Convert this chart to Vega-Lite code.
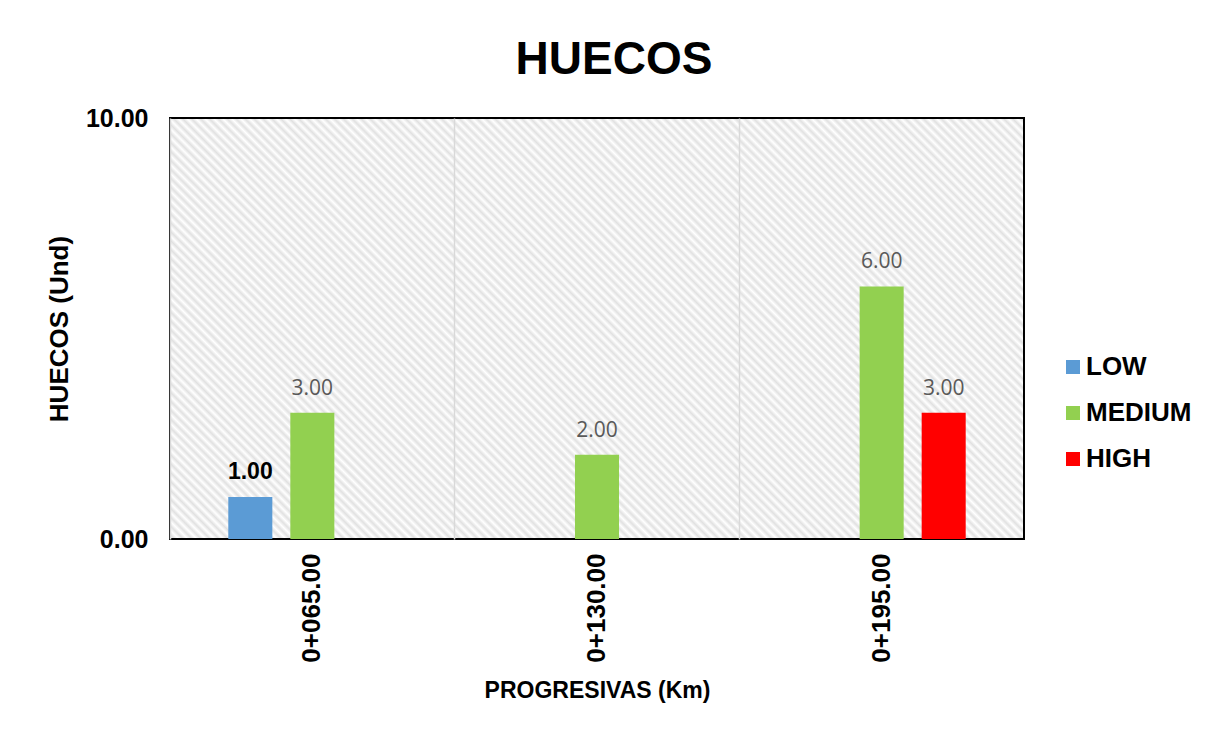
{
  "$schema": "https://vega.github.io/schema/vega-lite/v6.json",
  "width": 854,
  "height": 421,
  "autosize": "none",
  "padding": {"left": 170, "top": 118, "right": 192, "bottom": 192},
  "background": "white",
  "title": {
    "text": "HUECOS",
    "font": "Liberation Sans",
    "fontSize": 46,
    "fontWeight": "bold",
    "color": "black",
    "anchor": "middle",
    "baseline": "alphabetic",
    "dx": 17,
    "dy": 55,
    "offset": 41
  },
  "data": {
    "values": [
      {"progresiva": "0+065.00", "nivel": "LOW", "huecos": 1},
      {"progresiva": "0+065.00", "nivel": "MEDIUM", "huecos": 3},
      {"progresiva": "0+130.00", "nivel": "MEDIUM", "huecos": 2},
      {"progresiva": "0+195.00", "nivel": "MEDIUM", "huecos": 6},
      {"progresiva": "0+195.00", "nivel": "HIGH", "huecos": 3}
    ]
  },
  "encoding": {
    "x": {
      "field": "progresiva",
      "type": "nominal",
      "sort": ["0+065.00", "0+130.00", "0+195.00"],
      "scale": {"paddingInner": 0, "paddingOuter": 0},
      "axis": {
        "title": "PROGRESIVAS (Km)",
        "titleFont": "Liberation Sans",
        "titleFontSize": 23,
        "titleFontWeight": "bold",
        "titleColor": "black",
        "titlePadding": 17,
        "labelAngle": -90,
        "labelFont": "Liberation Sans",
        "labelFontSize": 26,
        "labelFontWeight": "bold",
        "labelColor": "black",
        "labelPadding": 14,
        "bandPosition": 0,
        "ticks": false,
        "domain": false,
        "grid": true,
        "gridColor": "#d9d9d9",
        "gridWidth": 1.5
      }
    },
    "xOffset": {
      "field": "nivel",
      "type": "nominal",
      "scale": {"domain": ["LOW", "MEDIUM", "HIGH"], "paddingInner": 0.29, "paddingOuter": 0.94}
    },
    "y": {
      "field": "huecos",
      "type": "quantitative",
      "scale": {"domain": [0, 10], "nice": false},
      "axis": {
        "title": "HUECOS (Und)",
        "titleFont": "Liberation Sans",
        "titleFontSize": 26,
        "titleFontWeight": "bold",
        "titleColor": "black",
        "titlePadding": 13,
        "values": [0, 10],
        "format": ".2f",
        "labelFont": "Liberation Sans",
        "labelFontSize": 25,
        "labelFontWeight": "bold",
        "labelColor": "black",
        "labelPadding": 22,
        "ticks": false,
        "domain": false,
        "grid": false
      }
    }
  },
  "layer": [
    {
      "mark": {"type": "bar"},
      "encoding": {
        "color": {
          "field": "nivel",
          "type": "nominal",
          "scale": {"domain": ["LOW", "MEDIUM", "HIGH"], "range": ["#5b9bd5", "#92d050", "#ff0000"]},
          "legend": {
            "title": null,
            "orient": "none",
            "legendX": 890,
            "legendY": 236,
            "symbolType": "square",
            "symbolSize": 196,
            "symbolStrokeWidth": 0,
            "labelFont": "Liberation Sans",
            "labelFontSize": 26,
            "labelFontWeight": "bold",
            "labelColor": "black",
            "labelOffset": 0,
            "rowPadding": 20,
            "padding": 0
          }
        }
      }
    },
    {
      "transform": [{"filter": "datum.nivel === 'LOW'"}],
      "mark": {"type": "text", "baseline": "alphabetic", "dy": -18, "font": "Liberation Sans", "fontSize": 23, "fontWeight": "bold", "color": "black"},
      "encoding": {"text": {"field": "huecos", "type": "quantitative", "format": ".2f"}}
    },
    {
      "transform": [{"filter": "datum.nivel !== 'LOW'"}],
      "mark": {"type": "text", "baseline": "alphabetic", "dy": -18, "font": "Open Sans", "fontSize": 21, "color": "#595959"},
      "encoding": {"text": {"field": "huecos", "type": "quantitative", "format": ".2f"}}
    }
  ],
  "config": {
    "view": {
      "stroke": "black",
      "strokeWidth": 2,
      "fill": {
        "gradient": "linear",
        "x1": 0, "y1": 1, "x2": 1.2011, "y2": 0.4079,
        "stops": [
          {"offset": 0, "color": "#fff"}, {"offset": 0.0035, "color": "#e1e1e1"},
          {"offset": 0.007, "color": "#fff"}, {"offset": 0.0105, "color": "#e1e1e1"},
          {"offset": 0.014, "color": "#fff"}, {"offset": 0.0175, "color": "#e1e1e1"},
          {"offset": 0.021, "color": "#fff"}, {"offset": 0.0245, "color": "#e1e1e1"},
          {"offset": 0.028, "color": "#fff"}, {"offset": 0.0315, "color": "#e1e1e1"},
          {"offset": 0.035, "color": "#fff"}, {"offset": 0.0385, "color": "#e1e1e1"},
          {"offset": 0.042, "color": "#fff"}, {"offset": 0.0455, "color": "#e1e1e1"},
          {"offset": 0.049, "color": "#fff"}, {"offset": 0.0525, "color": "#e1e1e1"},
          {"offset": 0.056, "color": "#fff"}, {"offset": 0.0595, "color": "#e1e1e1"},
          {"offset": 0.063, "color": "#fff"}, {"offset": 0.0665, "color": "#e1e1e1"},
          {"offset": 0.07, "color": "#fff"}, {"offset": 0.0735, "color": "#e1e1e1"},
          {"offset": 0.077, "color": "#fff"}, {"offset": 0.0805, "color": "#e1e1e1"},
          {"offset": 0.084, "color": "#fff"}, {"offset": 0.0875, "color": "#e1e1e1"},
          {"offset": 0.091, "color": "#fff"}, {"offset": 0.0945, "color": "#e1e1e1"},
          {"offset": 0.098, "color": "#fff"}, {"offset": 0.1015, "color": "#e1e1e1"},
          {"offset": 0.105, "color": "#fff"}, {"offset": 0.1085, "color": "#e1e1e1"},
          {"offset": 0.112, "color": "#fff"}, {"offset": 0.1155, "color": "#e1e1e1"},
          {"offset": 0.119, "color": "#fff"}, {"offset": 0.1225, "color": "#e1e1e1"},
          {"offset": 0.126, "color": "#fff"}, {"offset": 0.1295, "color": "#e1e1e1"},
          {"offset": 0.133, "color": "#fff"}, {"offset": 0.1365, "color": "#e1e1e1"},
          {"offset": 0.14, "color": "#fff"}, {"offset": 0.1435, "color": "#e1e1e1"},
          {"offset": 0.147, "color": "#fff"}, {"offset": 0.1505, "color": "#e1e1e1"},
          {"offset": 0.154, "color": "#fff"}, {"offset": 0.1575, "color": "#e1e1e1"},
          {"offset": 0.161, "color": "#fff"}, {"offset": 0.1645, "color": "#e1e1e1"},
          {"offset": 0.168, "color": "#fff"}, {"offset": 0.1715, "color": "#e1e1e1"},
          {"offset": 0.175, "color": "#fff"}, {"offset": 0.1785, "color": "#e1e1e1"},
          {"offset": 0.182, "color": "#fff"}, {"offset": 0.1855, "color": "#e1e1e1"},
          {"offset": 0.189, "color": "#fff"}, {"offset": 0.1925, "color": "#e1e1e1"},
          {"offset": 0.196, "color": "#fff"}, {"offset": 0.1995, "color": "#e1e1e1"},
          {"offset": 0.203, "color": "#fff"}, {"offset": 0.2065, "color": "#e1e1e1"},
          {"offset": 0.21, "color": "#fff"}, {"offset": 0.2135, "color": "#e1e1e1"},
          {"offset": 0.217, "color": "#fff"}, {"offset": 0.2205, "color": "#e1e1e1"},
          {"offset": 0.224, "color": "#fff"}, {"offset": 0.2275, "color": "#e1e1e1"},
          {"offset": 0.231, "color": "#fff"}, {"offset": 0.2345, "color": "#e1e1e1"},
          {"offset": 0.238, "color": "#fff"}, {"offset": 0.2415, "color": "#e1e1e1"},
          {"offset": 0.245, "color": "#fff"}, {"offset": 0.2485, "color": "#e1e1e1"},
          {"offset": 0.252, "color": "#fff"}, {"offset": 0.2555, "color": "#e1e1e1"},
          {"offset": 0.259, "color": "#fff"}, {"offset": 0.2625, "color": "#e1e1e1"},
          {"offset": 0.266, "color": "#fff"}, {"offset": 0.2695, "color": "#e1e1e1"},
          {"offset": 0.273, "color": "#fff"}, {"offset": 0.2765, "color": "#e1e1e1"},
          {"offset": 0.28, "color": "#fff"}, {"offset": 0.2835, "color": "#e1e1e1"},
          {"offset": 0.287, "color": "#fff"}, {"offset": 0.2905, "color": "#e1e1e1"},
          {"offset": 0.294, "color": "#fff"}, {"offset": 0.2975, "color": "#e1e1e1"},
          {"offset": 0.301, "color": "#fff"}, {"offset": 0.3045, "color": "#e1e1e1"},
          {"offset": 0.308, "color": "#fff"}, {"offset": 0.3115, "color": "#e1e1e1"},
          {"offset": 0.315, "color": "#fff"}, {"offset": 0.3185, "color": "#e1e1e1"},
          {"offset": 0.322, "color": "#fff"}, {"offset": 0.3255, "color": "#e1e1e1"},
          {"offset": 0.329, "color": "#fff"}, {"offset": 0.3325, "color": "#e1e1e1"},
          {"offset": 0.336, "color": "#fff"}, {"offset": 0.3395, "color": "#e1e1e1"},
          {"offset": 0.343, "color": "#fff"}, {"offset": 0.3465, "color": "#e1e1e1"},
          {"offset": 0.35, "color": "#fff"}, {"offset": 0.3535, "color": "#e1e1e1"},
          {"offset": 0.357, "color": "#fff"}, {"offset": 0.3605, "color": "#e1e1e1"},
          {"offset": 0.364, "color": "#fff"}, {"offset": 0.3675, "color": "#e1e1e1"},
          {"offset": 0.371, "color": "#fff"}, {"offset": 0.3745, "color": "#e1e1e1"},
          {"offset": 0.378, "color": "#fff"}, {"offset": 0.3815, "color": "#e1e1e1"},
          {"offset": 0.385, "color": "#fff"}, {"offset": 0.3885, "color": "#e1e1e1"},
          {"offset": 0.392, "color": "#fff"}, {"offset": 0.3955, "color": "#e1e1e1"},
          {"offset": 0.399, "color": "#fff"}, {"offset": 0.4025, "color": "#e1e1e1"},
          {"offset": 0.406, "color": "#fff"}, {"offset": 0.4095, "color": "#e1e1e1"},
          {"offset": 0.413, "color": "#fff"}, {"offset": 0.4165, "color": "#e1e1e1"},
          {"offset": 0.42, "color": "#fff"}, {"offset": 0.4235, "color": "#e1e1e1"},
          {"offset": 0.427, "color": "#fff"}, {"offset": 0.4305, "color": "#e1e1e1"},
          {"offset": 0.434, "color": "#fff"}, {"offset": 0.4375, "color": "#e1e1e1"},
          {"offset": 0.441, "color": "#fff"}, {"offset": 0.4445, "color": "#e1e1e1"},
          {"offset": 0.448, "color": "#fff"}, {"offset": 0.4515, "color": "#e1e1e1"},
          {"offset": 0.455, "color": "#fff"}, {"offset": 0.4585, "color": "#e1e1e1"},
          {"offset": 0.462, "color": "#fff"}, {"offset": 0.4655, "color": "#e1e1e1"},
          {"offset": 0.469, "color": "#fff"}, {"offset": 0.4725, "color": "#e1e1e1"},
          {"offset": 0.476, "color": "#fff"}, {"offset": 0.4795, "color": "#e1e1e1"},
          {"offset": 0.483, "color": "#fff"}, {"offset": 0.4865, "color": "#e1e1e1"},
          {"offset": 0.49, "color": "#fff"}, {"offset": 0.4935, "color": "#e1e1e1"},
          {"offset": 0.497, "color": "#fff"}, {"offset": 0.5005, "color": "#e1e1e1"},
          {"offset": 0.504, "color": "#fff"}, {"offset": 0.5075, "color": "#e1e1e1"},
          {"offset": 0.511, "color": "#fff"}, {"offset": 0.5145, "color": "#e1e1e1"},
          {"offset": 0.518, "color": "#fff"}, {"offset": 0.5215, "color": "#e1e1e1"},
          {"offset": 0.525, "color": "#fff"}, {"offset": 0.5285, "color": "#e1e1e1"},
          {"offset": 0.532, "color": "#fff"}, {"offset": 0.5355, "color": "#e1e1e1"},
          {"offset": 0.539, "color": "#fff"}, {"offset": 0.5425, "color": "#e1e1e1"},
          {"offset": 0.546, "color": "#fff"}, {"offset": 0.5495, "color": "#e1e1e1"},
          {"offset": 0.553, "color": "#fff"}, {"offset": 0.5565, "color": "#e1e1e1"},
          {"offset": 0.56, "color": "#fff"}, {"offset": 0.5635, "color": "#e1e1e1"},
          {"offset": 0.567, "color": "#fff"}, {"offset": 0.5705, "color": "#e1e1e1"},
          {"offset": 0.574, "color": "#fff"}, {"offset": 0.5775, "color": "#e1e1e1"},
          {"offset": 0.581, "color": "#fff"}, {"offset": 0.5845, "color": "#e1e1e1"},
          {"offset": 0.588, "color": "#fff"}, {"offset": 0.5915, "color": "#e1e1e1"},
          {"offset": 0.595, "color": "#fff"}, {"offset": 0.5985, "color": "#e1e1e1"},
          {"offset": 0.602, "color": "#fff"}, {"offset": 0.6055, "color": "#e1e1e1"},
          {"offset": 0.609, "color": "#fff"}, {"offset": 0.6125, "color": "#e1e1e1"},
          {"offset": 0.616, "color": "#fff"}, {"offset": 0.6195, "color": "#e1e1e1"},
          {"offset": 0.623, "color": "#fff"}, {"offset": 0.6265, "color": "#e1e1e1"},
          {"offset": 0.63, "color": "#fff"}, {"offset": 0.6335, "color": "#e1e1e1"},
          {"offset": 0.637, "color": "#fff"}, {"offset": 0.6405, "color": "#e1e1e1"},
          {"offset": 0.644, "color": "#fff"}, {"offset": 0.6475, "color": "#e1e1e1"},
          {"offset": 0.651, "color": "#fff"}, {"offset": 0.6545, "color": "#e1e1e1"},
          {"offset": 0.658, "color": "#fff"}, {"offset": 0.6615, "color": "#e1e1e1"},
          {"offset": 0.665, "color": "#fff"}, {"offset": 0.6685, "color": "#e1e1e1"},
          {"offset": 0.672, "color": "#fff"}, {"offset": 0.6755, "color": "#e1e1e1"},
          {"offset": 0.679, "color": "#fff"}, {"offset": 0.6825, "color": "#e1e1e1"},
          {"offset": 0.686, "color": "#fff"}, {"offset": 0.6895, "color": "#e1e1e1"},
          {"offset": 0.693, "color": "#fff"}, {"offset": 0.6965, "color": "#e1e1e1"},
          {"offset": 0.7, "color": "#fff"}, {"offset": 0.7035, "color": "#e1e1e1"},
          {"offset": 0.707, "color": "#fff"}, {"offset": 0.7105, "color": "#e1e1e1"},
          {"offset": 0.714, "color": "#fff"}, {"offset": 0.7175, "color": "#e1e1e1"},
          {"offset": 0.721, "color": "#fff"}, {"offset": 0.7245, "color": "#e1e1e1"},
          {"offset": 0.728, "color": "#fff"}, {"offset": 0.7315, "color": "#e1e1e1"},
          {"offset": 0.735, "color": "#fff"}, {"offset": 0.7385, "color": "#e1e1e1"},
          {"offset": 0.742, "color": "#fff"}, {"offset": 0.7455, "color": "#e1e1e1"},
          {"offset": 0.749, "color": "#fff"}, {"offset": 0.7525, "color": "#e1e1e1"},
          {"offset": 0.756, "color": "#fff"}, {"offset": 0.7595, "color": "#e1e1e1"},
          {"offset": 0.763, "color": "#fff"}, {"offset": 0.7665, "color": "#e1e1e1"},
          {"offset": 0.77, "color": "#fff"}, {"offset": 0.7735, "color": "#e1e1e1"},
          {"offset": 0.777, "color": "#fff"}, {"offset": 0.7805, "color": "#e1e1e1"},
          {"offset": 0.784, "color": "#fff"}, {"offset": 0.7875, "color": "#e1e1e1"},
          {"offset": 0.791, "color": "#fff"}, {"offset": 0.7945, "color": "#e1e1e1"},
          {"offset": 0.798, "color": "#fff"}, {"offset": 0.8015, "color": "#e1e1e1"},
          {"offset": 0.805, "color": "#fff"}, {"offset": 0.8085, "color": "#e1e1e1"},
          {"offset": 0.812, "color": "#fff"}, {"offset": 0.8155, "color": "#e1e1e1"},
          {"offset": 0.819, "color": "#fff"}, {"offset": 0.8225, "color": "#e1e1e1"},
          {"offset": 0.826, "color": "#fff"}, {"offset": 0.8295, "color": "#e1e1e1"},
          {"offset": 0.833, "color": "#fff"}, {"offset": 0.8365, "color": "#e1e1e1"},
          {"offset": 0.84, "color": "#fff"}, {"offset": 0.8435, "color": "#e1e1e1"},
          {"offset": 0.847, "color": "#fff"}, {"offset": 0.8505, "color": "#e1e1e1"},
          {"offset": 0.854, "color": "#fff"}, {"offset": 0.8575, "color": "#e1e1e1"},
          {"offset": 0.861, "color": "#fff"}, {"offset": 0.8645, "color": "#e1e1e1"},
          {"offset": 0.868, "color": "#fff"}, {"offset": 0.8715, "color": "#e1e1e1"},
          {"offset": 0.875, "color": "#fff"}, {"offset": 0.8785, "color": "#e1e1e1"},
          {"offset": 0.882, "color": "#fff"}, {"offset": 0.8855, "color": "#e1e1e1"},
          {"offset": 0.889, "color": "#fff"}, {"offset": 0.8925, "color": "#e1e1e1"},
          {"offset": 0.896, "color": "#fff"}, {"offset": 0.8995, "color": "#e1e1e1"},
          {"offset": 0.903, "color": "#fff"}, {"offset": 0.9065, "color": "#e1e1e1"},
          {"offset": 0.91, "color": "#fff"}, {"offset": 0.9135, "color": "#e1e1e1"},
          {"offset": 0.917, "color": "#fff"}, {"offset": 0.9205, "color": "#e1e1e1"},
          {"offset": 0.924, "color": "#fff"}, {"offset": 0.9275, "color": "#e1e1e1"},
          {"offset": 0.931, "color": "#fff"}, {"offset": 0.9345, "color": "#e1e1e1"},
          {"offset": 0.938, "color": "#fff"}, {"offset": 0.9415, "color": "#e1e1e1"},
          {"offset": 0.945, "color": "#fff"}, {"offset": 0.9485, "color": "#e1e1e1"},
          {"offset": 0.952, "color": "#fff"}, {"offset": 0.9555, "color": "#e1e1e1"},
          {"offset": 0.959, "color": "#fff"}, {"offset": 0.9625, "color": "#e1e1e1"},
          {"offset": 0.966, "color": "#fff"}, {"offset": 0.9695, "color": "#e1e1e1"},
          {"offset": 0.973, "color": "#fff"}, {"offset": 0.9765, "color": "#e1e1e1"},
          {"offset": 0.98, "color": "#fff"}, {"offset": 0.9835, "color": "#e1e1e1"},
          {"offset": 0.987, "color": "#fff"}, {"offset": 0.9905, "color": "#e1e1e1"},
          {"offset": 0.994, "color": "#fff"}, {"offset": 0.9975, "color": "#e1e1e1"}
        ]
      }
    }
  }
}
